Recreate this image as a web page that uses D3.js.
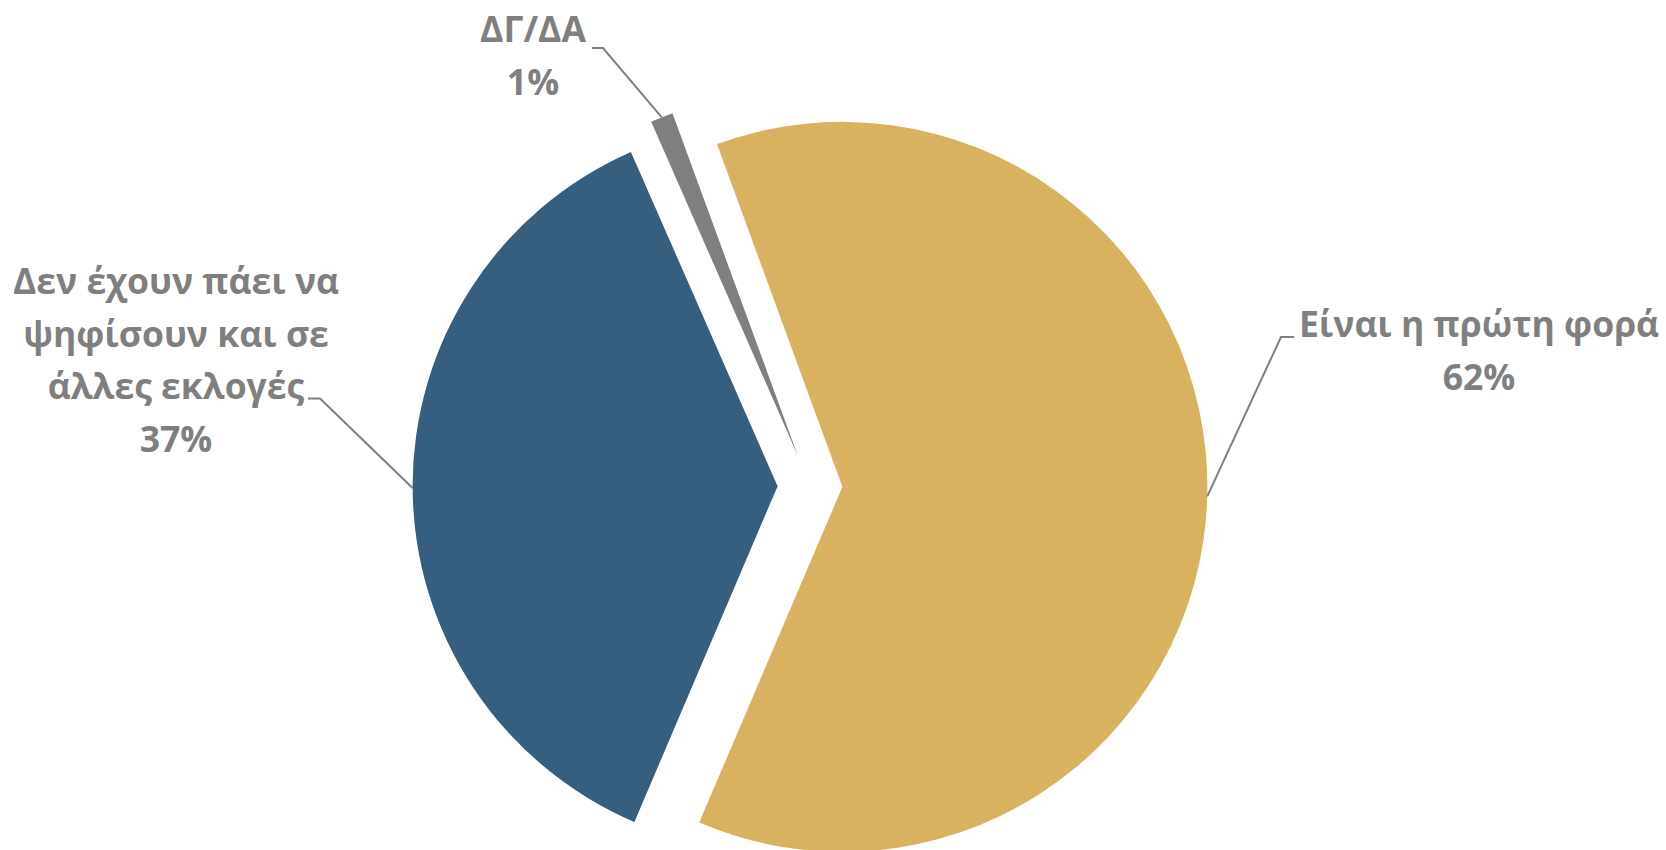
<!DOCTYPE html>
<html>
<head>
<meta charset="utf-8">
<script src="https://cdn.jsdelivr.net/npm/d3@7"></script>
<style>
  html, body { margin: 0; padding: 0; background: #fff; }
  svg text { font-family: "Open Sans", "Noto Sans", sans-serif; font-weight: 700; }
</style>
</head>
<body>
<div id="chart-area"></div>
<script>
// data
var categories = ["Είναι η πρώτη φορά", "Δεν έχουν πάει να ψηφίσουν και σε άλλες εκλογές", "ΔΓ/ΔΑ"];
var values = [62, 37, 1];
var labelLines = [
    ["Είναι η πρώτη φορά"],
    ["Δεν έχουν πάει να", "ψηφίσουν και σε", "άλλες εκλογές"],
    ["ΔΓ/ΔΑ"]
];
var colors = ["#D8B25F", "#365E7E", "#7F7F7F"];

var width = 1666, height = 850;
var cx = 810, cy = 486, radius = 365, explode = 32.4;
var startDeg = -20.1;
var lineGap = 52.5;
var textColor = "#7F7F7F";

// where each label sits (text anchor x, first baseline y) and its leader elbow
var labelLayout = [
    {x: 1479, y: 337, anchor: "middle", elbow: [1281, 337], tail: [1294, 337]},
    {x: 176, y: 294, anchor: "middle", elbow: [320, 398.5], tail: [308, 398.5]},
    {x: 533, y: 42, anchor: "middle", elbow: [603, 48], tail: [592, 48]}
];

var rows = categories.map(function(c, i){
    return {name: c, value: values[i], lines: labelLines[i].concat([values[i] + "%"]), color: colors[i], layout: labelLayout[i]};
});

var svg = d3.select("#chart-area").append("svg")
    .attr("width", width)
    .attr("height", height);

var start = startDeg * Math.PI / 180;
var pie = d3.pie()
    .sort(null)
    .value(function(d){ return d.value; })
    .startAngle(start)
    .endAngle(start + 2 * Math.PI);

var arc = d3.arc().innerRadius(0).outerRadius(radius);

var arcs = pie(rows);

// shift of each slice along its mid angle
function offset(d){
    var mid = (d.startAngle + d.endAngle) / 2;
    return [explode * Math.sin(mid), -explode * Math.cos(mid)];
}

var slices = svg.append("g")
    .attr("transform", "translate(" + cx + "," + cy + ")");

slices.selectAll("path")
    .data(arcs)
    .enter()
    .append("path")
        .attr("d", arc)
        .attr("fill", function(d){ return d.data.color; })
        .attr("transform", function(d){
            var o = offset(d);
            return "translate(" + o[0] + "," + o[1] + ")";
        });

// leader lines from slice edge to label
svg.selectAll(".leader")
    .data(arcs)
    .enter()
    .append("polyline")
        .attr("class", "leader")
        .attr("fill", "none")
        .attr("stroke", textColor)
        .attr("stroke-width", 2)
        .attr("points", function(d){
            var mid = (d.startAngle + d.endAngle) / 2;
            var o = offset(d);
            var px = cx + o[0] + radius * Math.sin(mid);
            var py = cy + o[1] - radius * Math.cos(mid);
            var L = d.data.layout;
            return [[px, py], L.elbow, L.tail].map(function(p){ return p.join(","); }).join(" ");
        });

// labels
var labels = svg.selectAll(".label")
    .data(arcs)
    .enter()
    .append("text")
        .attr("class", "label")
        .attr("font-size", "35.5px")
        .attr("fill", textColor)
        .attr("text-anchor", function(d){ return d.data.layout.anchor; });

labels.selectAll("tspan")
    .data(function(d){
        return d.data.lines.map(function(t, i){ return {t: t, L: d.data.layout, i: i}; });
    })
    .enter()
    .append("tspan")
        .attr("x", function(d){ return d.L.x; })
        .attr("y", function(d){ return d.L.y + d.i * lineGap; })
        .text(function(d){ return d.t; });
</script>
</body>
</html>
